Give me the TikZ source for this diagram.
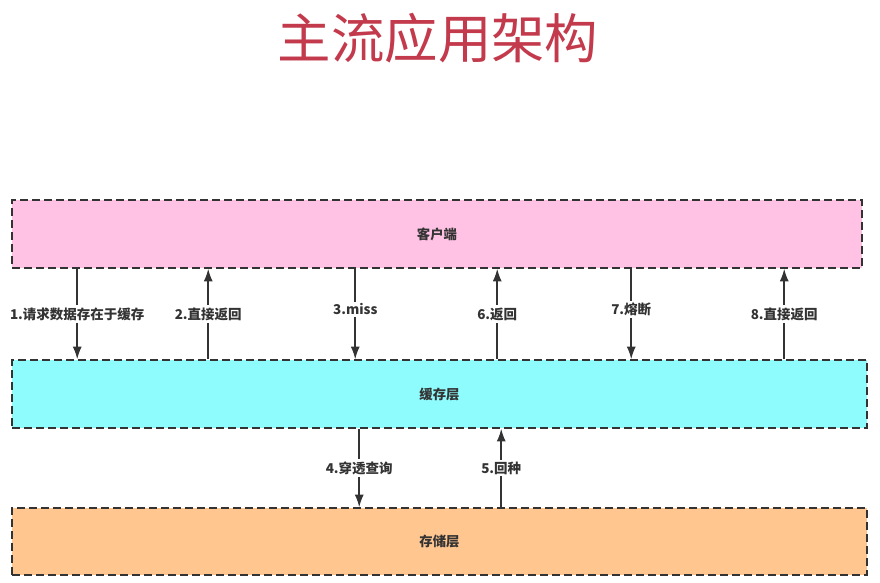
\documentclass[tikz,border=0pt]{standalone}
\usepackage{fontspec}
\usepackage{tikz}
\usetikzlibrary{shapes,arrows,arrows.meta,positioning,calc}
\newfontfamily\cjk{Noto Sans CJK SC}
\definecolor{titlered}{HTML}{C23A4C}
\definecolor{linegray}{HTML}{333333}
\definecolor{clientpink}{HTML}{FFC2E4}
\definecolor{cachecyan}{HTML}{8EFCFC}
\definecolor{storeorange}{HTML}{FFC690}
\tikzstyle{layer} = [draw=linegray, line width=1.1pt, dash pattern=on 0.2cm off 0.1cm, rectangle, minimum height=1.7cm, font=\cjk\fontsize{9.5}{11}\selectfont\bfseries, text=linegray]
\tikzstyle{flow} = [->, draw=linegray, line width=1.1pt]
\tikzstyle{tag} = [fill=white, inner sep=1.5pt, font=\cjk\fontsize{9.6}{11}\selectfont\bfseries, text=linegray]

\begin{document}
\begin{tikzpicture}[>={Latex[length=9pt,width=6.5pt]}]
    \useasboundingbox (0,0) rectangle (22,-14.55);
    % Title
    \node [font=\cjk\fontsize{38}{44}\selectfont, text=titlered] (title) at (10.95,-0.95) {主流应用架构};
    % Layers
    \node [layer, fill=clientpink, minimum width=21.25cm] (client) at (10.925,-5.85) {客户端};
    \node [layer, fill=cachecyan, minimum width=21.375cm] (cache) at (10.9875,-9.85) {缓存层};
    \node [layer, fill=storeorange, minimum width=21.375cm, minimum height=1.675cm] (store) at (10.9875,-13.5375) {存储层};
    
    % Connections
    \draw [flow] ([xshift=1.65cm]client.south west) -- node [tag] {1.请求数据存在于缓存} ([xshift=1.65cm]cache.north west);
    \draw [flow] ([xshift=4.925cm]cache.north west) -- node [tag] {2.直接返回} ([xshift=4.925cm]client.south west);
    \draw [flow] ([xshift=8.6cm]client.south west) -- node [tag, pos=0.45] {3.miss} ([xshift=8.6cm]cache.north west);
    \draw [flow] ([xshift=12.15cm]cache.north west) -- node [tag] {6.返回} ([xshift=12.15cm]client.south west);
    \draw [flow] ([xshift=15.5cm]client.south west) -- node [tag, pos=0.45] {7.熔断} ([xshift=15.5cm]cache.north west);
    \draw [flow] ([xshift=19.325cm]cache.north west) -- node [tag] {8.直接返回} ([xshift=19.325cm]client.south west);
    \draw [flow] ([xshift=8.7cm]cache.south west) -- node [tag] {4.穿透查询} ([xshift=8.7cm]store.north west);
    \draw [flow] ([xshift=12.25cm]store.north west) -- node [tag] {5.回种} ([xshift=12.25cm]cache.south west);
\end{tikzpicture}
\end{document}
